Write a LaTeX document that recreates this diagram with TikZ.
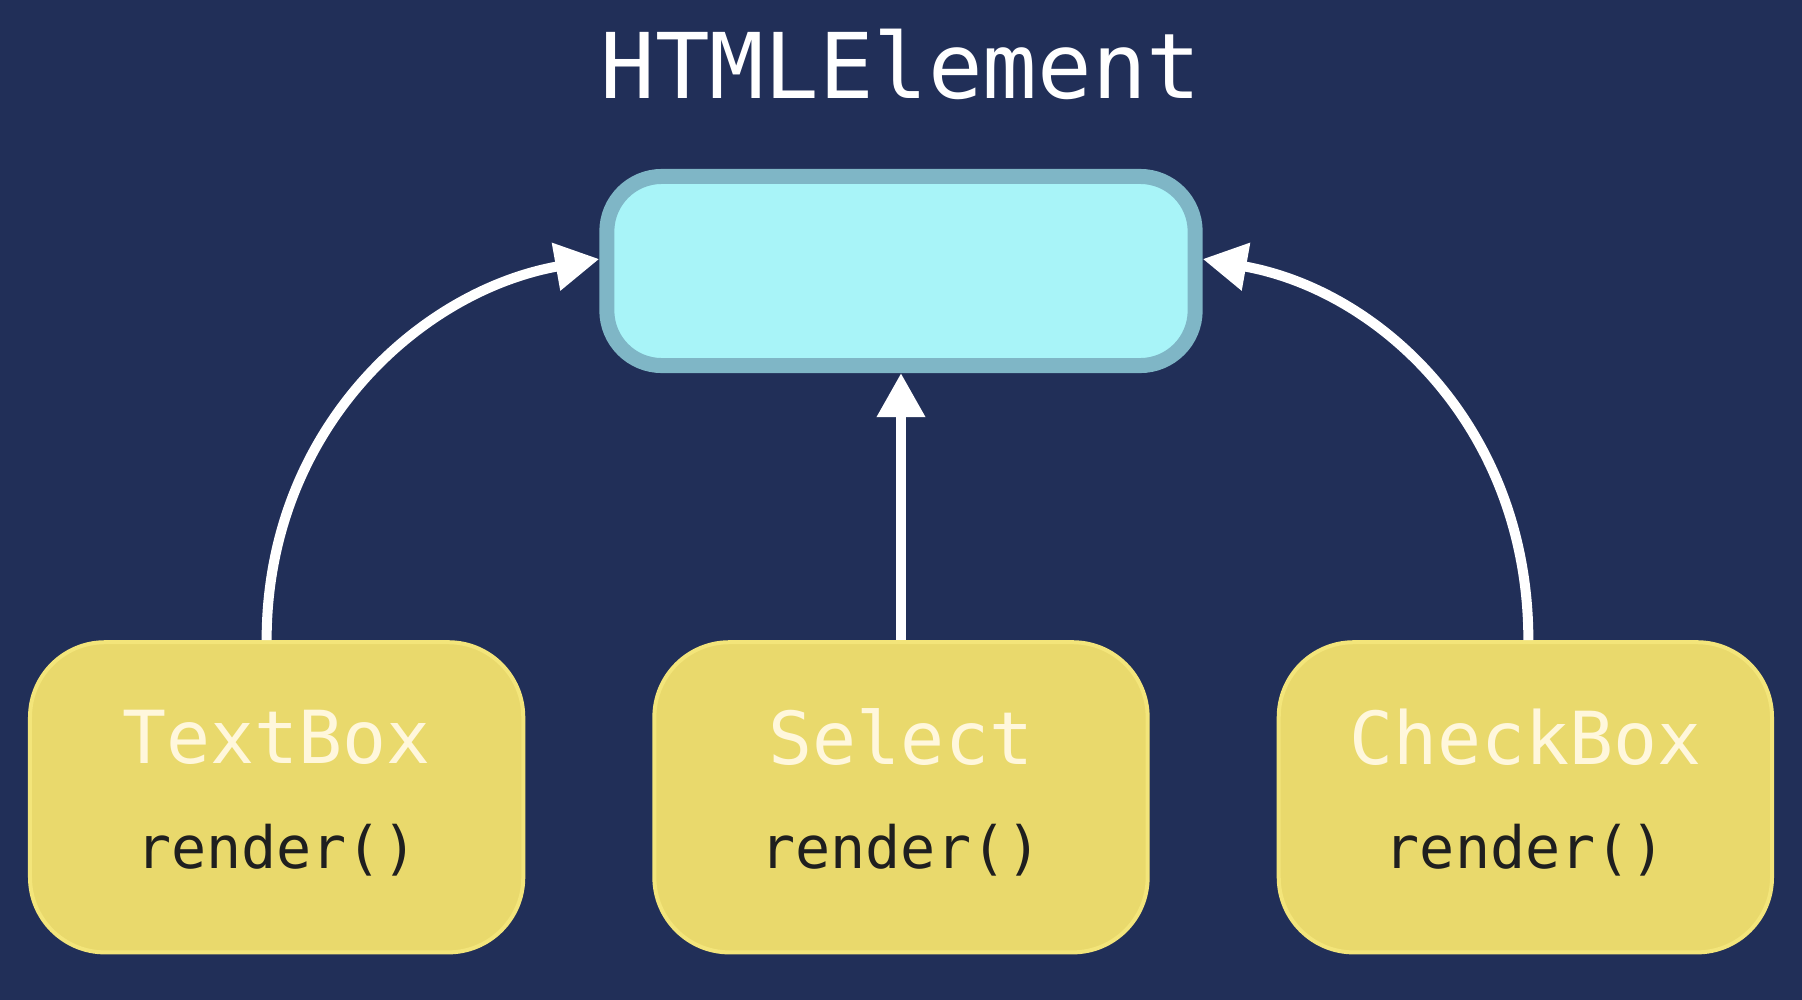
\documentclass[tikz,border=0pt]{standalone}
\usepackage{fontspec}
\setmonofont{DejaVu Sans Mono}
\usetikzlibrary{positioning, arrows.meta}
\definecolor{navy}{HTML}{212F58}
\definecolor{cyanfill}{HTML}{A8F4F8}
\definecolor{cyanedge}{HTML}{7FB6C6}
\definecolor{yellowfill}{HTML}{E9D96C}
\definecolor{yellowedge}{HTML}{F3E57A}
\definecolor{namewhite}{HTML}{FFF7DC}

\begin{document}
\begin{tikzpicture}[x=0.01cm, y=-0.01cm, node distance=1.27cm,
  parentbox/.style={draw=cyanedge, fill=cyanfill, line width=0.15cm, rounded corners=0.55cm, minimum width=5.88cm, minimum height=1.89cm},
  classbox/.style={draw=yellowedge, fill=yellowfill, line width=0.04cm, rounded corners=0.75cm, minimum width=4.93cm, minimum height=3.10cm},
  clsname/.style={text=namewhite, font=\ttfamily\fontsize{20.8}{24}\selectfont},
  method/.style={text=black!88, font=\ttfamily\fontsize{16.6}{19}\selectfont},
  inherit/.style={white, line width=0.1cm, -{Triangle[length=0.44cm, width=0.46cm]}}]
\fill[navy] (0,0) rectangle (1802,1000);
\useasboundingbox (0,0) rectangle (1802,1000);

\node[anchor=base, text=white, font=\ttfamily\fontsize{25.8}{30}\selectfont] (title) at (901,98) {HTMLElement};
\node[parentbox] (html) at (901,271) {};

\node[classbox, below=2.67cm of html] (sel) {};
\node[classbox, left=of sel] (tb) {};
\node[classbox, right=of sel] (cb) {};

% class names and methods
\node[clsname] (tbname) at ([yshift=0.6cm]tb.center) {TextBox};
\node[method] (tbrender) at ([yshift=-0.53cm]tb.center) {render()};
\node[clsname] (selname) at ([yshift=0.6cm]sel.center) {Select};
\node[method] (selrender) at ([yshift=-0.53cm]sel.center) {render()};
\node[clsname] (cbname) at ([yshift=0.6cm]cb.center) {CheckBox};
\node[method] (cbrender) at ([yshift=-0.53cm]cb.center) {render()};

\draw[inherit] ([xshift=-0.1cm]tb.north) .. controls +(0,-210) and +(-180,32) .. ([yshift=0.12cm]html.west);
\draw[inherit] (sel.north) -- (html.south);
\draw[inherit] ([xshift=0.03cm]cb.north) .. controls +(0,-210) and +(180,32) .. ([yshift=0.12cm]html.east);
\end{tikzpicture}
\end{document}
